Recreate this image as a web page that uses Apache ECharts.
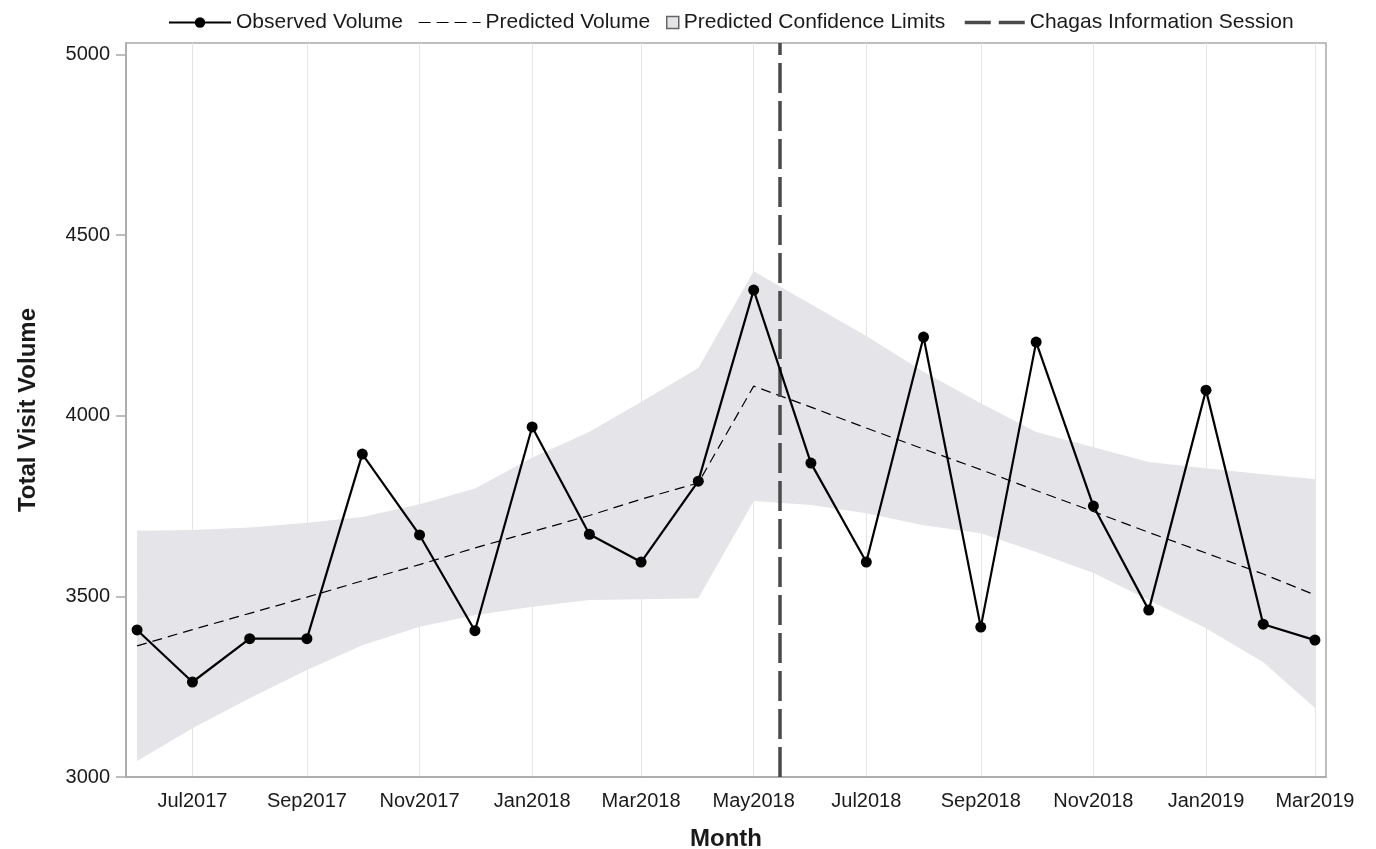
<!DOCTYPE html>
<html>
<head>
<meta charset="utf-8">
<title>Total Visit Volume by Month</title>
<script src="https://cdn.jsdelivr.net/npm/echarts@6/dist/echarts.min.js"></script>
<style>
  html, body { margin: 0; padding: 0; background: #ffffff; }
  #chart { width: 1376px; height: 849px; }
</style>
</head>
<body>
<div id="chart"></div>
<script>
// Monthly observations, June 2017 through March 2019
const months = ['2017-06','2017-07','2017-08','2017-09','2017-10','2017-11','2017-12',
                '2018-01','2018-02','2018-03','2018-04','2018-05','2018-06','2018-07',
                '2018-08','2018-09','2018-10','2018-11','2018-12','2019-01','2019-02','2019-03'];
const observedVolume = [3407,3263,3383,3383,3894,3670,3405,3969,3672,3595,3819,
                        4348,3869,3595,4218,3415,4204,3750,3462,4071,3423,3379];
const predictedVolume = [3363,3408,3453,3498,3543,3588,3634,3679,3724,3769,3814,
                         4082,4024,3966,3908,3851,3793,3735,3677,3620,3562,3504];
const upperLimit = [3682,3684,3691,3704,3720,3755,3799,3884,3956,4038,4132,
                    4400,4309,4221,4122,4035,3955,3913,3872,3855,3838,3825];
const lowerLimit = [3044,3135,3218,3296,3365,3416,3448,3471,3490,3492,3495,
                    3764,3753,3730,3697,3675,3623,3565,3490,3412,3318,3191];
const sessionDate = '2018-05-15';
const xTickMonths = ['2017-07','2017-09','2017-11','2018-01','2018-03','2018-05',
                     '2018-07','2018-09','2018-11','2019-01','2019-03'];
const yTicks = [3000, 3500, 4000, 4500, 5000];
const monthNames = ['Jan','Feb','Mar','Apr','May','Jun','Jul','Aug','Sep','Oct','Nov','Dec'];

// dates are placed on a linear day scale (milliseconds, UTC)
function toTime(s) {
  const p = s.split('-').map(Number);
  return Date.UTC(p[0], p[1] - 1, p[2] || 1);
}
const times = months.map(toTime);
const pairs = (vals) => vals.map((v, i) => [times[i], v]);
const xTickTimes = xTickMonths.map(toTime);

const FONT = '"Liberation Sans", Arial, Helvetica, sans-serif';
const TEXT = '#1a1a1a';
const FRAME = '#a9a9a9';
const BAND = '#e5e4e8';
const SESSION = '#4a4a4a';

const chart = echarts.init(document.getElementById('chart'), null, { renderer: 'canvas' });

const legendText = { fontFamily: FONT, fontSize: 21, color: TEXT };
function legendAt(left, item, extra) {
  return Object.assign({
    top: 7, left: left, itemGap: 0, itemWidth: 62, itemHeight: 14,
    selectedMode: false, textStyle: legendText, data: [item]
  }, extra || {});
}

chart.setOption({
  animation: false,
  textStyle: { fontFamily: FONT },
  legend: [
    legendAt(163, 'Observed Volume', { itemHeight: 13 }),
    legendAt(413, { name: 'Predicted Volume', itemStyle: { opacity: 0 },
                    lineStyle: { color: '#000000', width: 1.2, type: [12, 6] } }),
    legendAt(661, { name: 'Predicted Confidence Limits', icon: 'rect',
                    itemStyle: { color: BAND, borderColor: '#666666', borderWidth: 1.5 } },
             { itemWidth: 12, itemHeight: 12 }),
    legendAt(958, { name: 'Chagas Information Session', itemStyle: { opacity: 0 },
                    lineStyle: { color: SESSION, width: 3.5, type: [26, 8] } },
             { itemWidth: 60 })
  ],
  grid: {
    left: 126, right: 50, top: 43, bottom: 72,
    outerBoundsMode: 'none',
    containLabel: false,
    show: true, borderColor: FRAME, borderWidth: 1.5, backgroundColor: 'transparent'
  },
  xAxis: {
    type: 'value',
    min: toTime('2017-05-26'),
    max: toTime('2019-03-07'),
    name: 'Month',
    nameLocation: 'middle',
    nameGap: 50,
    nameTextStyle: { fontFamily: FONT, fontSize: 24, fontWeight: 'bold', color: TEXT },
    axisLine: { show: true, onZero: false, lineStyle: { color: FRAME, width: 1.5 } },
    axisTick: { show: false, customValues: xTickTimes },
    splitLine: { show: true, lineStyle: { color: '#e4e4e4', width: 1 } },
    axisLabel: {
      customValues: xTickTimes,
      margin: 14,
      fontFamily: FONT, fontSize: 20, color: TEXT,
      formatter: (v) => {
        const d = new Date(v);
        return monthNames[d.getUTCMonth()] + d.getUTCFullYear();
      }
    }
  },
  yAxis: {
    type: 'value',
    min: 3000,
    max: 5032,
    name: 'Total Visit Volume',
    nameLocation: 'middle',
    nameGap: 86,
    nameTextStyle: { fontFamily: FONT, fontSize: 24, fontWeight: 'bold', color: TEXT },
    axisLine: { show: true, lineStyle: { color: FRAME, width: 1.5 } },
    axisTick: { show: true, length: 10, customValues: yTicks, lineStyle: { color: FRAME, width: 1.5 } },
    splitLine: { show: false },
    axisLabel: {
      customValues: yTicks,
      margin: 16,
      fontFamily: FONT, fontSize: 20, color: TEXT,
      formatter: (v) => String(v)
    }
  },
  series: [
    {
      // confidence band: one polygon along the upper limits and back along the lower limits
      name: 'Predicted Confidence Limits',
      type: 'custom',
      data: times.map((t, i) => [t, lowerLimit[i], upperLimit[i]]),
      encode: { x: 0, y: [1, 2] },
      itemStyle: { color: BAND },
      silent: true,
      z: 1,
      renderItem: (params, api) => {
        if (params.dataIndex !== 0) return null;
        const pts = [];
        for (let i = 0; i < times.length; i++) pts.push(api.coord([times[i], upperLimit[i]]));
        for (let i = times.length - 1; i >= 0; i--) pts.push(api.coord([times[i], lowerLimit[i]]));
        return { type: 'polygon', shape: { points: pts }, style: { fill: BAND } };
      }
    },
    {
      name: 'Predicted Volume',
      type: 'line',
      data: pairs(predictedVolume),
      symbol: 'none',
      itemStyle: { color: '#000000' },
      lineStyle: { color: '#000000', width: 1.2, type: [10, 6] },
      silent: true,
      z: 3
    },
    {
      name: 'Chagas Information Session',
      type: 'line',
      data: [],
      symbol: 'none',
      itemStyle: { color: SESSION },
      lineStyle: { color: SESSION, width: 3.5, type: [26, 8] },
      markLine: {
        silent: true,
        symbol: ['none', 'none'],
        label: { show: false },
        lineStyle: { color: SESSION, width: 3.5, type: [30, 8] },
        data: [{ xAxis: toTime(sessionDate) }]
      },
      z: 4
    },
    {
      name: 'Observed Volume',
      type: 'line',
      data: pairs(observedVolume),
      symbol: 'circle',
      symbolSize: 11,
      showAllSymbol: true,
      itemStyle: { color: '#000000' },
      lineStyle: { color: '#000000', width: 2.2 },
      silent: true,
      z: 5
    }
  ]
});
</script>
</body>
</html>
